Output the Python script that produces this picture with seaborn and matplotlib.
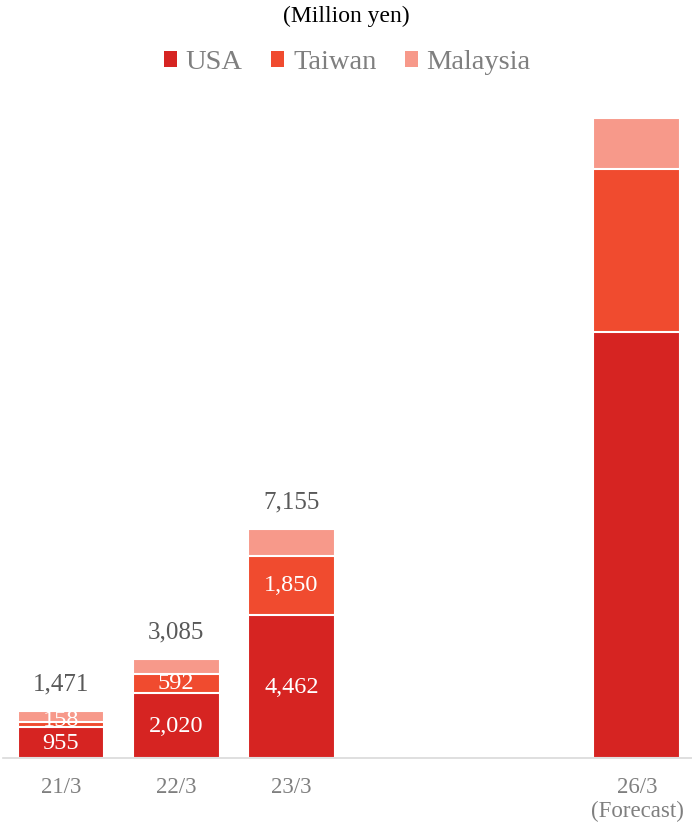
import matplotlib
matplotlib.use("Agg")
import matplotlib.pyplot as plt
from matplotlib.patches import Patch
import seaborn as sns
import pandas as pd
import numpy as np

categories = ["21/3", "22/3", "23/3", "24/3", "25/3", "26/3"]
tick_labels = ["21/3", "22/3", "23/3", "", "", "26/3\n(Forecast)"]
bar_cats = ["21/3", "22/3", "23/3", "26/3"]
usa = [955, 2020, 4462, 13350]
taiwan = [158, 592, 1850, 5100]
malaysia = [358, 473, 843, 1600]
totals_labels = [1471, 3085, 7155, None]
series_names = ["USA", "Taiwan", "Malaysia"]
colors = ["#D62422", "#F04B2F", "#F7998A"]

sns.set_theme(style="white")
plt.rcParams["font.family"] = ["Liberation Serif", "DejaVu Serif"]

df = pd.DataFrame({"period": bar_cats, "USA": usa, "Taiwan": taiwan, "Malaysia": malaysia})
df["lvl1"] = df["USA"]
df["lvl2"] = df["USA"] + df["Taiwan"]
df["lvl3"] = df["lvl2"] + df["Malaysia"]

fig = plt.figure(figsize=(6.92, 8.27), dpi=100)
ax = fig.add_axes([0.0049, 0.0838, 0.9988, 0.8105])

for col, c in [("lvl3", colors[2]), ("lvl2", colors[1]), ("lvl1", colors[0])]:
    sns.barplot(data=df, x="period", y=col, order=categories, color=c,
                width=0.755, edgecolor="white", linewidth=1.5, ax=ax,
                saturation=1, errorbar=None)

ax.set_ylim(0, 21000)
ax.set_xlim(-0.5, 5.5)
ax.set_xlabel("")
ax.set_ylabel("")
ax.set_yticks([])
for s in ["top", "right", "left"]:
    ax.spines[s].set_visible(False)
ax.spines["bottom"].set_color("#D9D9D9")
ax.spines["bottom"].set_linewidth(1.2)
ax.set_xticks(range(len(categories)))
ax.set_xticklabels(tick_labels, fontsize=16.5, color="#7F7F7F", linespacing=1.15)
ax.tick_params(axis="x", length=0, pad=14)

pos = {c: i for i, c in enumerate(categories)}
for i, cat in enumerate(bar_cats):
    x = pos[cat]
    if totals_labels[i] is not None:
        top = usa[i] + taiwan[i] + malaysia[i]
        ax.annotate(f"{totals_labels[i]:,}", (x, top), xytext=(0, 19), textcoords="offset points",
                    ha="center", va="center", fontsize=18, color="#595959")
        ax.annotate(f"{usa[i]:,}", (x, usa[i] / 2), xytext=(0, -1), textcoords="offset points",
                    ha="center", va="center", fontsize=17.5, color="white")
        dy = 3 if taiwan[i] < 300 else 0
        ax.annotate(f"{taiwan[i]:,}", (x, usa[i] + taiwan[i] / 2), xytext=(0, dy),
                    textcoords="offset points", ha="center", va="center",
                    fontsize=17.5, color="white")

fig.text(0.5, 0.980, "(Million yen)", ha="center", va="center", fontsize=17, color="black")
handles = [Patch(facecolor=c, edgecolor="none") for c in colors]
fig.legend(handles, series_names, loc="center", bbox_to_anchor=(0.502, 0.924), ncol=3,
           frameon=False, fontsize=20.5, labelcolor="#7F7F7F", handlelength=0.46,
           handleheight=0.46, handletextpad=0.3, columnspacing=1.0)

fig.savefig("out.png", dpi=100)
